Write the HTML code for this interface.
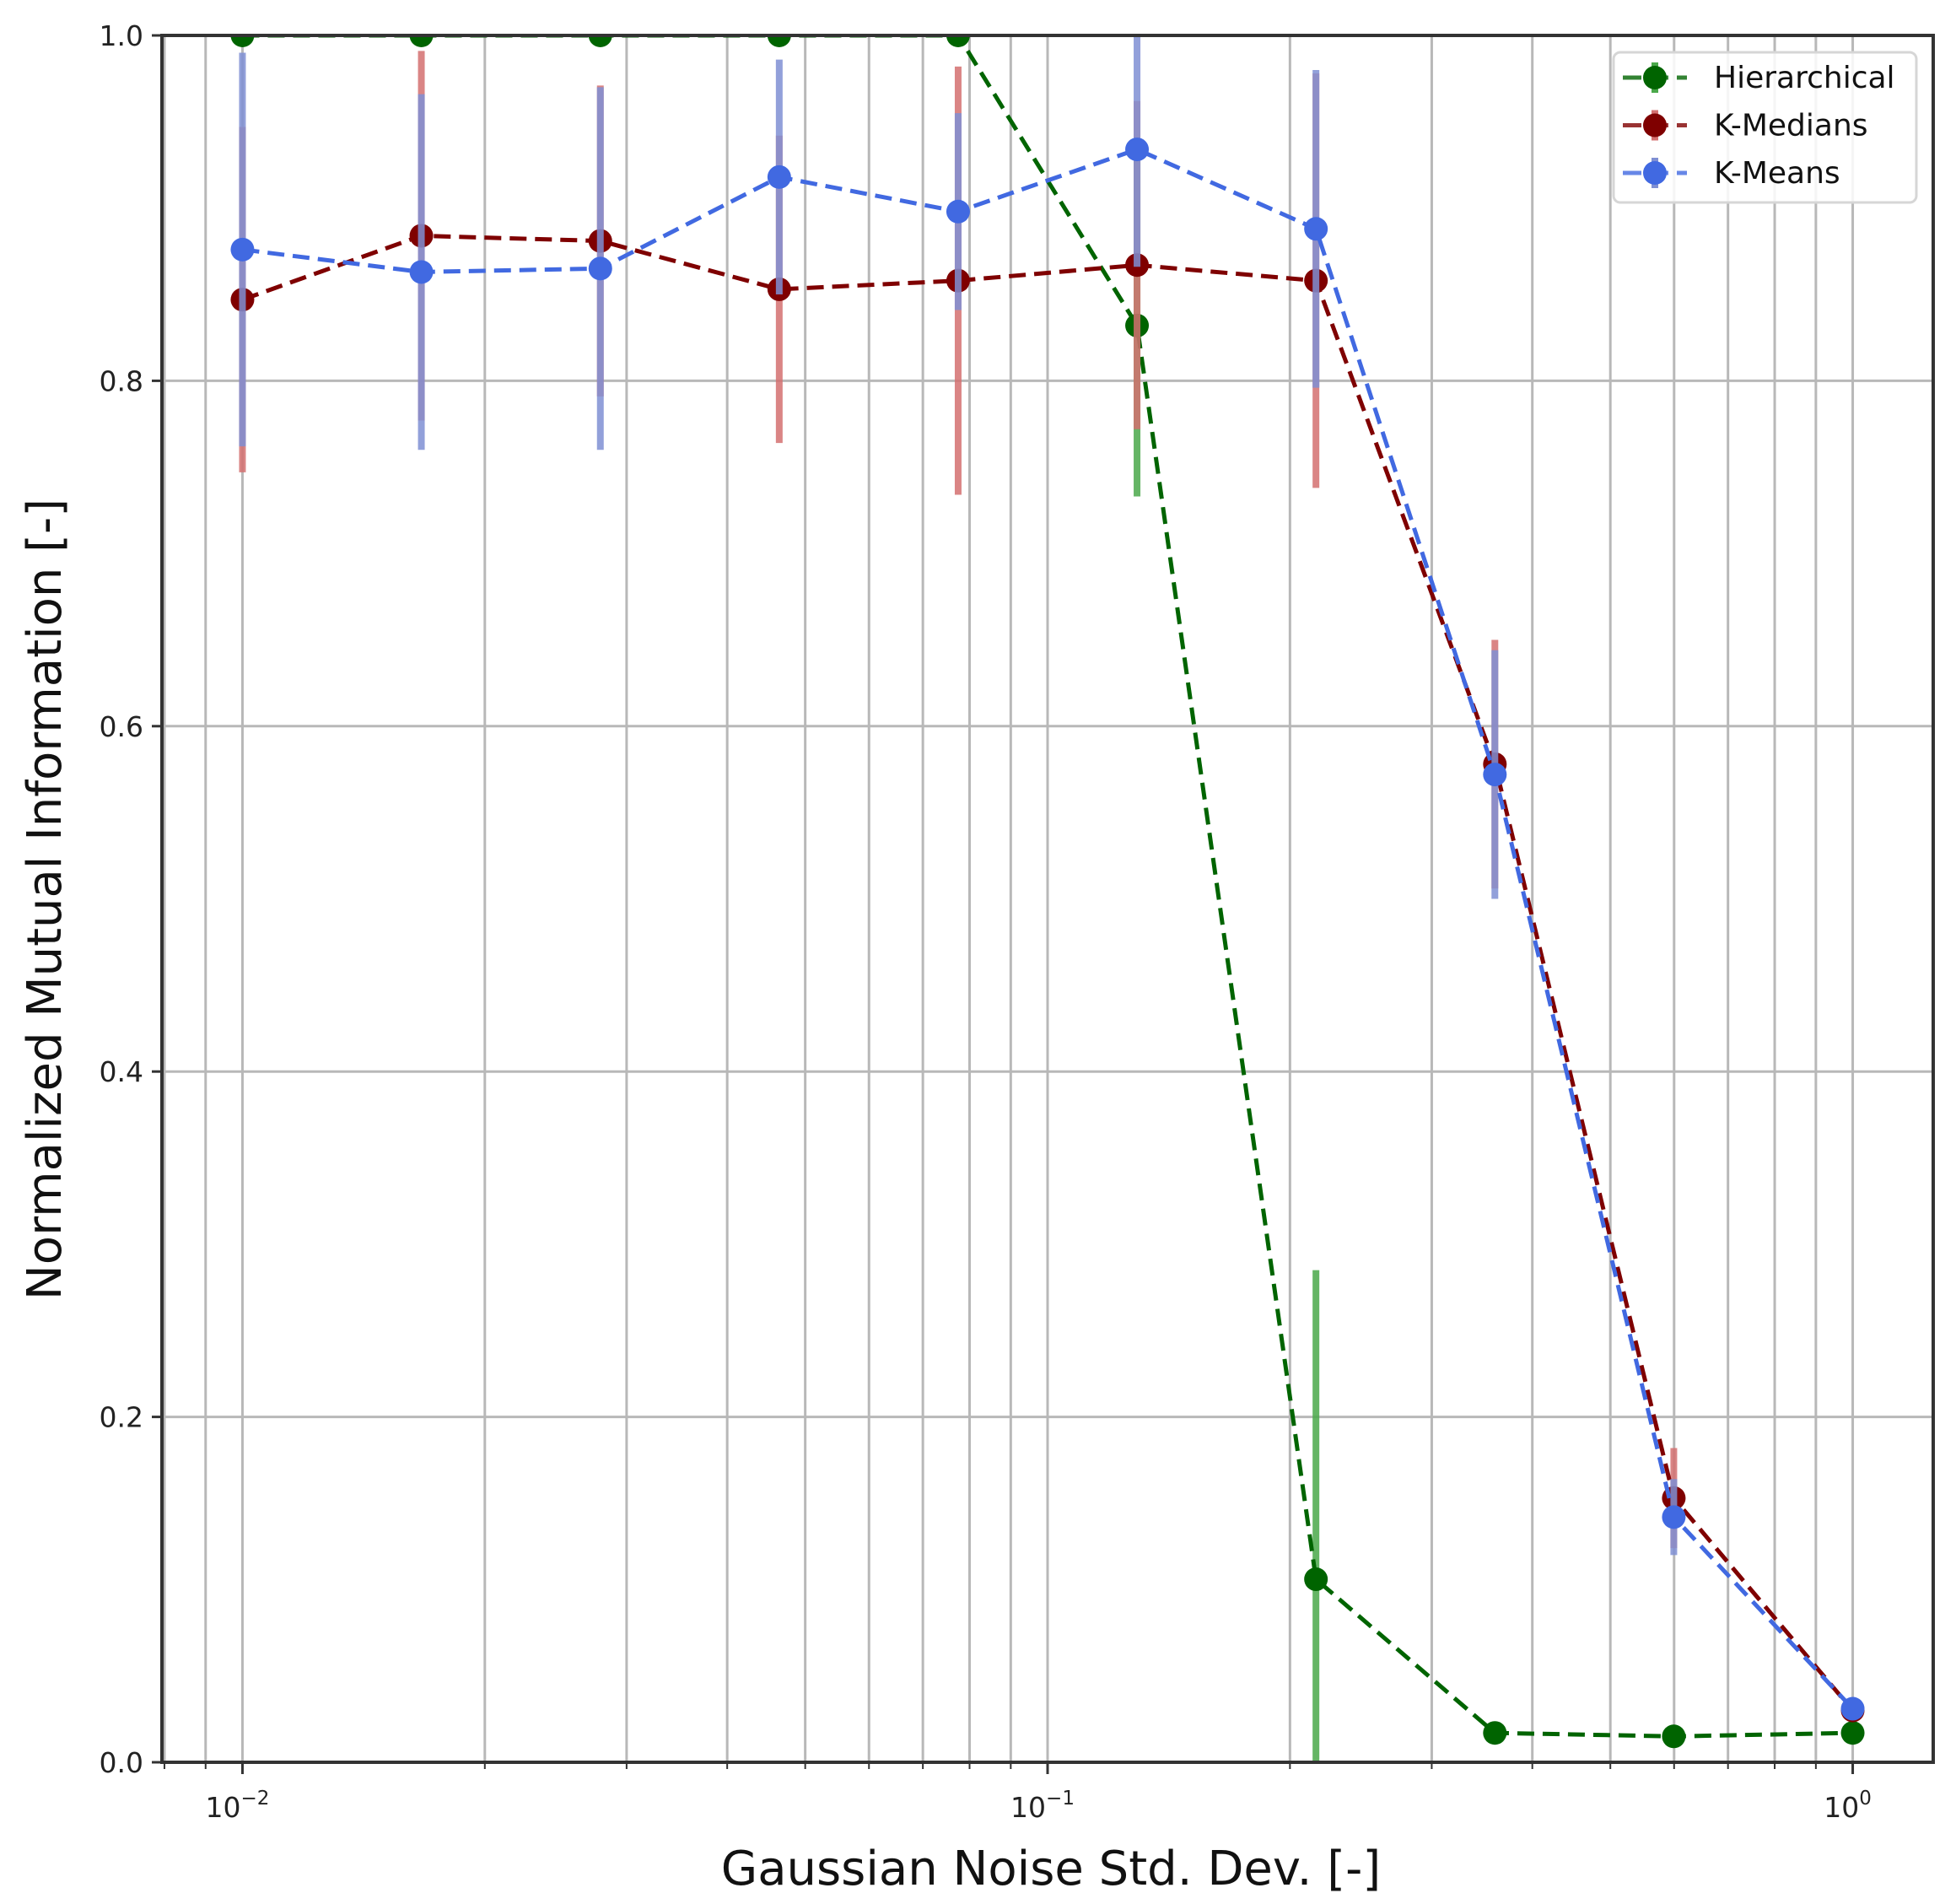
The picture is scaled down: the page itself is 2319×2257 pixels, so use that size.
<!DOCTYPE html>
<html><head><meta charset="utf-8"><style>
html,body{margin:0;padding:0;background:#fff}
svg{display:block;font-family:"DejaVu Sans","Liberation Sans",sans-serif}
</style></head><body>
<svg id="chart" width="2319" height="2257" viewBox="0 0 2319 2257" xmlns="http://www.w3.org/2000/svg">
<rect width="2319" height="2257" fill="#fff"/>
<g id="grid"></g>
<g id="series"></g>
<g id="axes"></g>
<text x="1246" y="2234" font-size="56" text-anchor="middle" fill="#111">Gaussian Noise Std. Dev. [-]</text>
<text transform="translate(72,1066) rotate(-90)" font-size="56" text-anchor="middle" fill="#111">Normalized Mutual Information [-]</text>
<g id="legend"></g>
</svg>
<script>
const xValues = [0.01, 0.01668, 0.02783, 0.04642, 0.07743, 0.12915, 0.21544, 0.35938, 0.59948, 1.0];
const seriesNames = ["Hierarchical", "K-Medians", "K-Means"];
const hierMean = [1, 1, 1, 1, 1, 0.832, 0.106, 0.017, 0.015, 0.017];
const hierErr  = [0, 0, 0, 0, 0, 0.099, 0.179, 0.002, 0.002, 0.002];
const kmedMean = [0.847, 0.884, 0.881, 0.853, 0.858, 0.867, 0.858, 0.578, 0.153, 0.030];
const kmedErr  = [0.100, 0.107, 0.090, 0.089, 0.124, 0.095, 0.120, 0.072, 0.029, 0.004];
const kmeanMean = [0.876, 0.863, 0.865, 0.918, 0.898, 0.934, 0.888, 0.572, 0.142, 0.031];
const kmeanErr  = [0.114, 0.103, 0.105, 0.068, 0.057, 0.068, 0.092, 0.072, 0.022, 0.004];
const yTicks = [0.0, 0.2, 0.4, 0.6, 0.8, 1.0];
const yTickLabels = ["0.0", "0.2", "0.4", "0.6", "0.8", "1.0"];
const xDecades = [-2, -1, 0];

const NS = "http://www.w3.org/2000/svg";
const L = 192, R = 2292, T = 42, B = 2089;
const lx0 = -2.1, lx1 = 0.1;
function xs(v){ return L + (Math.log10(v) - lx0) / (lx1 - lx0) * (R - L); }
function ys(v){ return B - v * (B - T); }
function mk(tag, attrs, parent){ const e = document.createElementNS(NS, tag); for (const k in attrs) e.setAttribute(k, attrs[k]); parent.appendChild(e); return e; }

const grid = document.getElementById('grid');
const axes = document.getElementById('axes');
const ser = document.getElementById('series');
const leg = document.getElementById('legend');

for (let d = -3; d <= 0; d++) {
  for (let m = 1; m <= 9; m++) {
    const v = m * Math.pow(10, d);
    const lv = Math.log10(v);
    if (lv < lx0 || lv > lx1) continue;
    const x = xs(v);
    const gl = mk('line', {x1:x, x2:x, y1:T, y2:B, stroke:'#b8b8b8', 'stroke-width':3}, grid);
    
    
    const tk = mk('line', {x1:x, x2:x, y1:B, y2:B + (m === 1 ? 14 : 8), stroke:'#333', 'stroke-width': m === 1 ? 3 : 2}, axes);
    
    
  }
}
yTicks.forEach((v, i) => {
  const y = ys(v);
  const gl = mk('line', {x1:L, x2:R, y1:y, y2:y, stroke:'#b8b8b8', 'stroke-width':3}, grid);
  
  
  const tk = mk('line', {x1:L - 12, x2:L, y1:y, y2:y, stroke:'#333', 'stroke-width':3}, axes);
  
  
  const t = mk('text', {x:L - 22, y:y + 12, 'font-size':33, 'text-anchor':'end', fill:'#222'}, axes);
  t.textContent = yTickLabels[i];
  
  
});
xDecades.forEach(d => {
  const x = xs(Math.pow(10, d));
  const t = mk('text', {x:x - 6, y:2154, 'font-size':33, 'text-anchor':'middle', fill:'#222'}, axes);
  t.textContent = '10';
  const s = mk('tspan', {dy:-15, 'font-size':23}, t);
  s.textContent = d === 0 ? '0' : '\u2212' + Math.abs(d);
  
  
});
const frame = mk('rect', {x:L, y:T, width:R - L, height:B - T, fill:'none', stroke:'#333', 'stroke-width':4}, axes);



const defs = mk('defs', {}, ser);
const cp = mk('clipPath', {id:'clip'}, defs);
mk('rect', {x:L, y:T, width:R - L, height:B - T}, cp);

const series = [
  {name:seriesNames[0], mean:hierMean, err:hierErr, color:'#006400', ecolor:'#4aa84a', id:'hierarchical'},
  {name:seriesNames[1], mean:kmedMean, err:kmedErr, color:'#7f0000', ecolor:'#d47070', id:'k-medians'},
  {name:seriesNames[2], mean:kmeanMean, err:kmeanErr, color:'#4169e1', ecolor:'#7f8fd3', id:'k-means'}
];
series.forEach(s => {
  const g = mk('g', {'clip-path':'url(#clip)'}, ser);
  
  
  xValues.forEach((xv, i) => {
    const x = xs(xv);
    const e = mk('line', {x1:x, x2:x, y1:ys(s.mean[i] + s.err[i]), y2:ys(s.mean[i] - s.err[i]), stroke:s.ecolor, 'stroke-width':8, 'stroke-opacity':0.85}, g);
    
    
  });
  const pts = xValues.map((xv, i) => xs(xv) + ',' + ys(s.mean[i])).join(' ');
  const pl = mk('polyline', {points:pts, fill:'none', stroke:s.color, 'stroke-width':5, 'stroke-dasharray':'20 10'}, g);
  
  
  xValues.forEach((xv, i) => {
    const c = mk('circle', {cx:xs(xv), cy:ys(s.mean[i]), r:14, fill:s.color}, g);
    
    
  });
});

const lb = mk('rect', {x:1913, y:62, width:359, height:178, rx:8, fill:'#fff', 'fill-opacity':0.85, stroke:'#d6d6d6', 'stroke-width':3}, leg);


series.forEach((s, i) => {
  const y = 92 + i * 56.5;
  const g = mk('g', {}, leg);
  
  
  mk('line', {x1:1924, x2:2000, y1:y, y2:y, stroke:s.color, 'stroke-width':5, 'stroke-dasharray':'22 10', 'stroke-opacity':0.8}, g);
  mk('line', {x1:1962, x2:1962, y1:y - 18, y2:y + 18, stroke:s.ecolor, 'stroke-width':8}, g);
  mk('circle', {cx:1962, cy:y, r:14, fill:s.color}, g);
  const t = mk('text', {x:2032, y:y + 12, 'font-size':36, fill:'#111'}, g);
  t.textContent = s.name;
});
</script>
</body></html>
